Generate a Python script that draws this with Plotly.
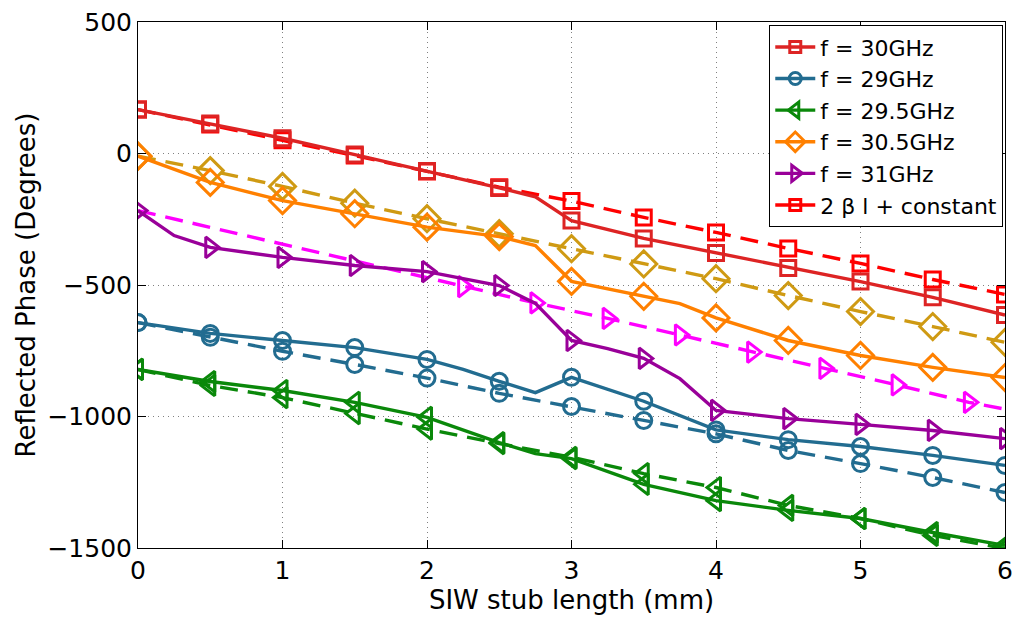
import plotly.graph_objects as go

# ---- data ----
x_red = [0, 0.5, 1, 1.5, 2, 2.5, 2.75, 3, 3.5, 4, 4.5, 5, 5.5, 6]
y_red = [167, 114, 58, -4, -67, -131, -165, -255, -323, -378, -435, -487, -547, -614]

x_blue = [0, 0.5, 1, 1.5, 2, 2.25, 2.5, 2.75, 3, 3.5, 4, 4.5, 5, 5.5, 6]
y_blue = [-643, -684, -711, -738, -783, -821, -866, -909, -851, -942, -1051, -1088, -1114, -1148, -1186]

x_green = [0, 0.5, 1, 1.5, 2, 2.5, 2.75, 3, 3.5, 4, 4.5, 5, 5.5, 6]
y_green = [-821, -867, -901, -946, -1003, -1099, -1141, -1160, -1258, -1320, -1357, -1388, -1441, -1490]

x_orange = [0, 0.5, 1, 1.5, 2, 2.5, 2.75, 3, 3.5, 3.75, 4, 4.5, 5, 5.5, 6]
y_orange = [-10, -110, -179, -229, -280, -316, -350, -486, -543, -571, -625, -711, -768, -813, -852]

x_purple = [0, 0.25, 0.5, 1, 1.5, 2, 2.5, 2.75, 3, 3.25, 3.5, 3.75, 4, 4.5, 5, 5.5, 6]
y_purple = [-217, -312, -357, -395, -426, -449, -502, -570, -711, -742, -779, -856, -977, -1008, -1030, -1053, -1084]

x_theory = [0, 0.5, 1, 1.5, 2, 2.5, 3, 3.5, 4, 4.5, 5, 5.5, 6]
y_theory_red = [167, 110, 50, -8, -68, -128, -181, -243, -300, -361, -418, -479, -536]
y_theory_gold = [-10, -65, -125, -189, -248, -305, -362, -420, -476, -540, -601, -658, -718]
y_theory_blue = [-643, -699, -752, -802, -854, -912, -962, -1015, -1066, -1129, -1179, -1232, -1289]
y_theory_green = [-821, -882, -928, -989, -1048, -1103, -1155, -1217, -1270, -1338, -1388, -1452, -1502]

x_magenta = [0, 2.25, 2.75, 3.25, 3.75, 4.25, 4.75, 5.25, 5.75, 6]
y_magenta = [-217, -506, -568, -627, -690, -755, -817, -880, -946, -972]
magenta_marked = [False, True, True, True, True, True, True, True, True, False]

legend_labels = ["f = 30GHz", "f = 29GHz", "f = 29.5GHz", "f = 30.5GHz", "f = 31GHz", "2 β l + constant"]

# ---- styles ----
C_RED = "#DD2424"
C_RED2 = "#FF0000"
C_BLUE = "#226C90"
C_GREEN = "#0A880A"
C_ORANGE = "#FF8000"
C_GOLD = "#CF9A13"
C_PURPLE = "#990099"
C_MAG = "#FF00FF"
LW = 3.4
MLW = 3

S_SQ, S_CI, S_TR, S_DI = 15, 16, 18, 20

fig = go.Figure()


def sizes_for(xs, size):
    return [size if abs(v * 2 - round(v * 2)) < 1e-9 else 0 for v in xs]


def add_series(xs, ys, color, symbol, size, dash="solid", msizes=None):
    fig.add_trace(go.Scatter(
        x=xs, y=ys, mode="lines+markers", showlegend=False,
        line=dict(color=color, width=LW, dash=dash),
        marker=dict(symbol=symbol, size=msizes if msizes is not None else sizes_for(xs, size),
                    color=color, opacity=1, line=dict(color=color, width=MLW)),
        hoverinfo="skip"))


DASH = "18px,10px"
# dashed theory curves
add_series(x_theory, y_theory_green, C_GREEN, "triangle-left-open", S_TR, DASH)
add_series(x_theory, y_theory_blue, C_BLUE, "circle-open", S_CI, DASH)
add_series(x_magenta, y_magenta, C_MAG, "triangle-right-open", S_TR, DASH,
           msizes=[S_TR if m else 0 for m in magenta_marked])
add_series(x_theory, y_theory_gold, C_GOLD, "diamond-open", S_DI, DASH)
add_series(x_theory, y_theory_red, C_RED2, "square-open", S_SQ, DASH)
# solid measured curves
add_series(x_green, y_green, C_GREEN, "triangle-left-open", S_TR)
add_series(x_blue, y_blue, C_BLUE, "circle-open", S_CI)
add_series(x_purple, y_purple, C_PURPLE, "triangle-right-open", S_TR)
add_series(x_orange, y_orange, C_ORANGE, "diamond-open", S_DI)
add_series(x_red, y_red, C_RED, "square-open", S_SQ)

# legend entries
leg_styles = [
    (C_RED, "square-open", 11),
    (C_BLUE, "circle-open", 12),
    (C_GREEN, "triangle-left-open", 14),
    (C_ORANGE, "diamond-open", 15),
    (C_PURPLE, "triangle-right-open", 14),
    (C_RED2, "square-open", 11),
]
for name, (col, sym, sz) in zip(legend_labels, leg_styles):
    fig.add_trace(go.Scatter(
        x=[None], y=[None], mode="lines+markers", name=name,
        line=dict(color=col, width=LW),
        marker=dict(symbol=sym, size=sz, color=col, opacity=1, line=dict(color=col, width=MLW))))

FONT = "DejaVu Sans"
axis_common = dict(
    showline=True, linecolor="black", linewidth=1, mirror="ticks",
    ticks="inside", ticklen=8, tickcolor="black", tickwidth=1,
    showgrid=True, gridcolor="#808080", griddash="1px,4px", gridwidth=1,
    zeroline=False, tickfont=dict(family=FONT, size=25, color="black"),
    automargin=False,
)

fig.update_layout(
    width=1013, height=621,
    margin=dict(l=138, r=8, t=22, b=73, autoexpand=False),
    paper_bgcolor="white", plot_bgcolor="white",
    font=dict(family=FONT, color="black"),
    xaxis=dict(range=[0, 6], dtick=1, tick0=0,
               title=dict(text="SIW stub length (mm)", font=dict(family=FONT, size=26), standoff=2),
               **axis_common),
    yaxis=dict(range=[-1500, 500], dtick=500, tick0=0,
               title=dict(text="Reflected Phase (Degrees)", font=dict(family=FONT, size=26), standoff=4),
               **axis_common),
    legend=dict(x=0.998, y=0.994, xanchor="right", yanchor="top",
                bgcolor="white", bordercolor="black", borderwidth=1,
                font=dict(family=FONT, size=22, color="black"),
                itemwidth=40, tracegroupgap=0),
)

fig.write_html("out.html")
